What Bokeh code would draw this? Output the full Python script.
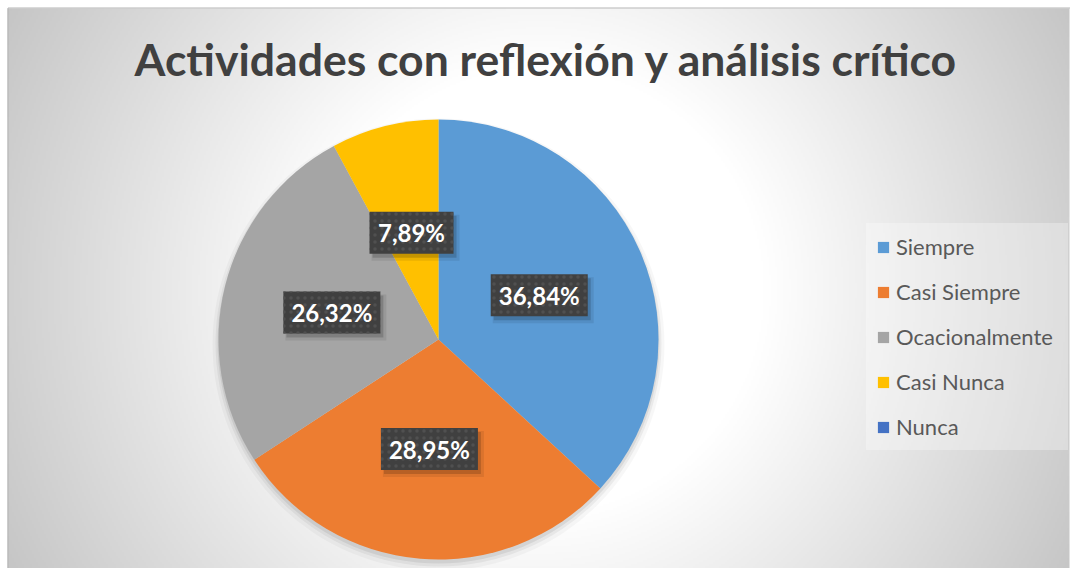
import numpy as np
from bokeh.plotting import figure
from bokeh.models import Range1d, Legend, LegendItem, ColumnDataSource
from bokeh.core.properties import value
from bokeh.embed import file_html
from bokeh.resources import INLINE

title_text = "Actividades con reflexión y análisis crítico"
categories = ["Siempre", "Casi Siempre", "Ocacionalmente", "Casi Nunca", "Nunca"]
percentages = [36.84, 28.95, 26.32, 7.89, 0.0]
colors = ["#5B9BD5", "#ED7D31", "#A5A5A5", "#FFC000", "#4472C4"]

W, H = 1070, 568
CX, CY, R = 438, 229, 220

p = figure(width=W, height=H, x_range=Range1d(0, W), y_range=Range1d(0, H),
           output_backend="svg", toolbar_location=None, min_border=0)
p.axis.visible = False
p.grid.visible = False
p.outline_line_color = None
p.background_fill_color = "white"
p.border_fill_color = "white"

# radial gradient background (styling only), chart area starts 7px in
X0, TOP = 7, 7
nx, ny = (W - X0) // 2, (H - TOP) // 2
gx = X0 + (np.arange(nx) + 0.5) * 2
gy = (np.arange(ny) + 0.5) * 2
GX, GY = np.meshgrid(gx, gy)
d = np.hypot(GX - 540, GY - 278)
v = np.clip(255 - np.clip(d - 224, 0, None) * 0.152, 192, 255).astype(np.uint32)
img = (np.uint32(255) << 24) | (v << 16) | (v << 8) | v
p.image_rgba(image=[img.astype(np.uint32)], x=X0, y=0, dw=nx * 2, dh=ny * 2)
p.quad(left=[X0 + 0.5], right=[W + 5], top=[H - TOP - 0.5], bottom=[-5],
       fill_color=None, line_color="#b4b4b4", line_width=1)

# pie shadow
for off, extra, a in [(5, 6, 0.03), (4, 3, 0.05), (3, 1, 0.07)]:
    p.circle(x=[CX], y=[CY - off], radius=R + extra, fill_color="black",
             fill_alpha=a, line_color=None)

vals = np.array(percentages, dtype=float)
frac = vals / vals.sum()
cum = np.cumsum(frac)
start = np.pi / 2 - 2 * np.pi * (cum - frac)
end = np.pi / 2 - 2 * np.pi * cum
nz = vals > 0

src = ColumnDataSource(dict(
    x=[CX] * int(nz.sum()), y=[CY] * int(nz.sum()),
    start=start[nz], end=end[nz], color=list(np.array(colors)[nz])))
p.wedge(x="x", y="y", radius=R, start_angle="start", end_angle="end",
        direction="clock", fill_color="color", line_color=None, source=src)

# legend proxy renderer (invisible zero-size rects)
lsrc = ColumnDataSource(dict(x=[-50] * len(categories), y=[-50] * len(categories),
                             color=colors))
lr = p.rect(x="x", y="y", width=0, height=0, fill_color="color", line_color=None,
            source=lsrc)

# data labels
mid = (start + end) / 2
lx = CX + 0.5 * R * np.cos(mid)
ly = CY + 0.5 * R * np.sin(mid)
labels = [f"{pv:.2f}".replace(".", ",") + "%" for pv in percentages]
lab_x = list(lx[nz]); lab_y = list(ly[nz])
lab_t = [t for t, k in zip(labels, nz) if k]
lab_w = [13 * len(t) + 19 for t in lab_t]
lab_src = ColumnDataSource(dict(x=lab_x, y=lab_y, t=lab_t, w=lab_w,
                                xs=[a + 4 for a in lab_x], ys=[b - 5 for b in lab_y],
                                ws=[w + 4 for w in lab_w],
                                xs2=[a + 3 for a in lab_x], ys2=[b - 4 for b in lab_y]))
p.rect(x="xs", y="ys", width="ws", height=46, fill_color="black", fill_alpha=0.08,
       line_color=None, source=lab_src)
p.rect(x="xs2", y="ys2", width="w", height=42, fill_color="black", fill_alpha=0.16,
       line_color=None, source=lab_src)
p.rect(x="x", y="y", width="w", height=42, fill_color="#404040", line_color=None,
       hatch_pattern="dot", hatch_color="#505050", hatch_scale=7, hatch_weight=1.5,
       source=lab_src)
p.text(x="x", y="y", text="t", text_align="center", text_baseline="middle",
       text_font=value("Lato"), text_font_style="bold", text_font_size="24px",
       text_color="white", source=lab_src)

# title
p.text(x=[546], y=[H - 58], text=[title_text], text_align="center",
       text_baseline="middle", text_font=value("Lato"), text_font_style="bold",
       text_font_size="44.5px", text_color="#404040")

items = [LegendItem(label=c, renderers=[lr], index=i) for i, c in enumerate(categories)]
legend = Legend(items=items, location=(866, H - 450), glyph_width=14, glyph_height=14,
                label_standoff=6, spacing=18, padding=10, margin=0,
                label_text_font="Lato", label_text_font_size="22px",
                label_text_color="#595959", label_height=20, label_width=162,
                background_fill_color="white", background_fill_alpha=0.3,
                border_line_alpha=0)
p.add_layout(legend)

open("out.html", "w").write(file_html(p, INLINE))
